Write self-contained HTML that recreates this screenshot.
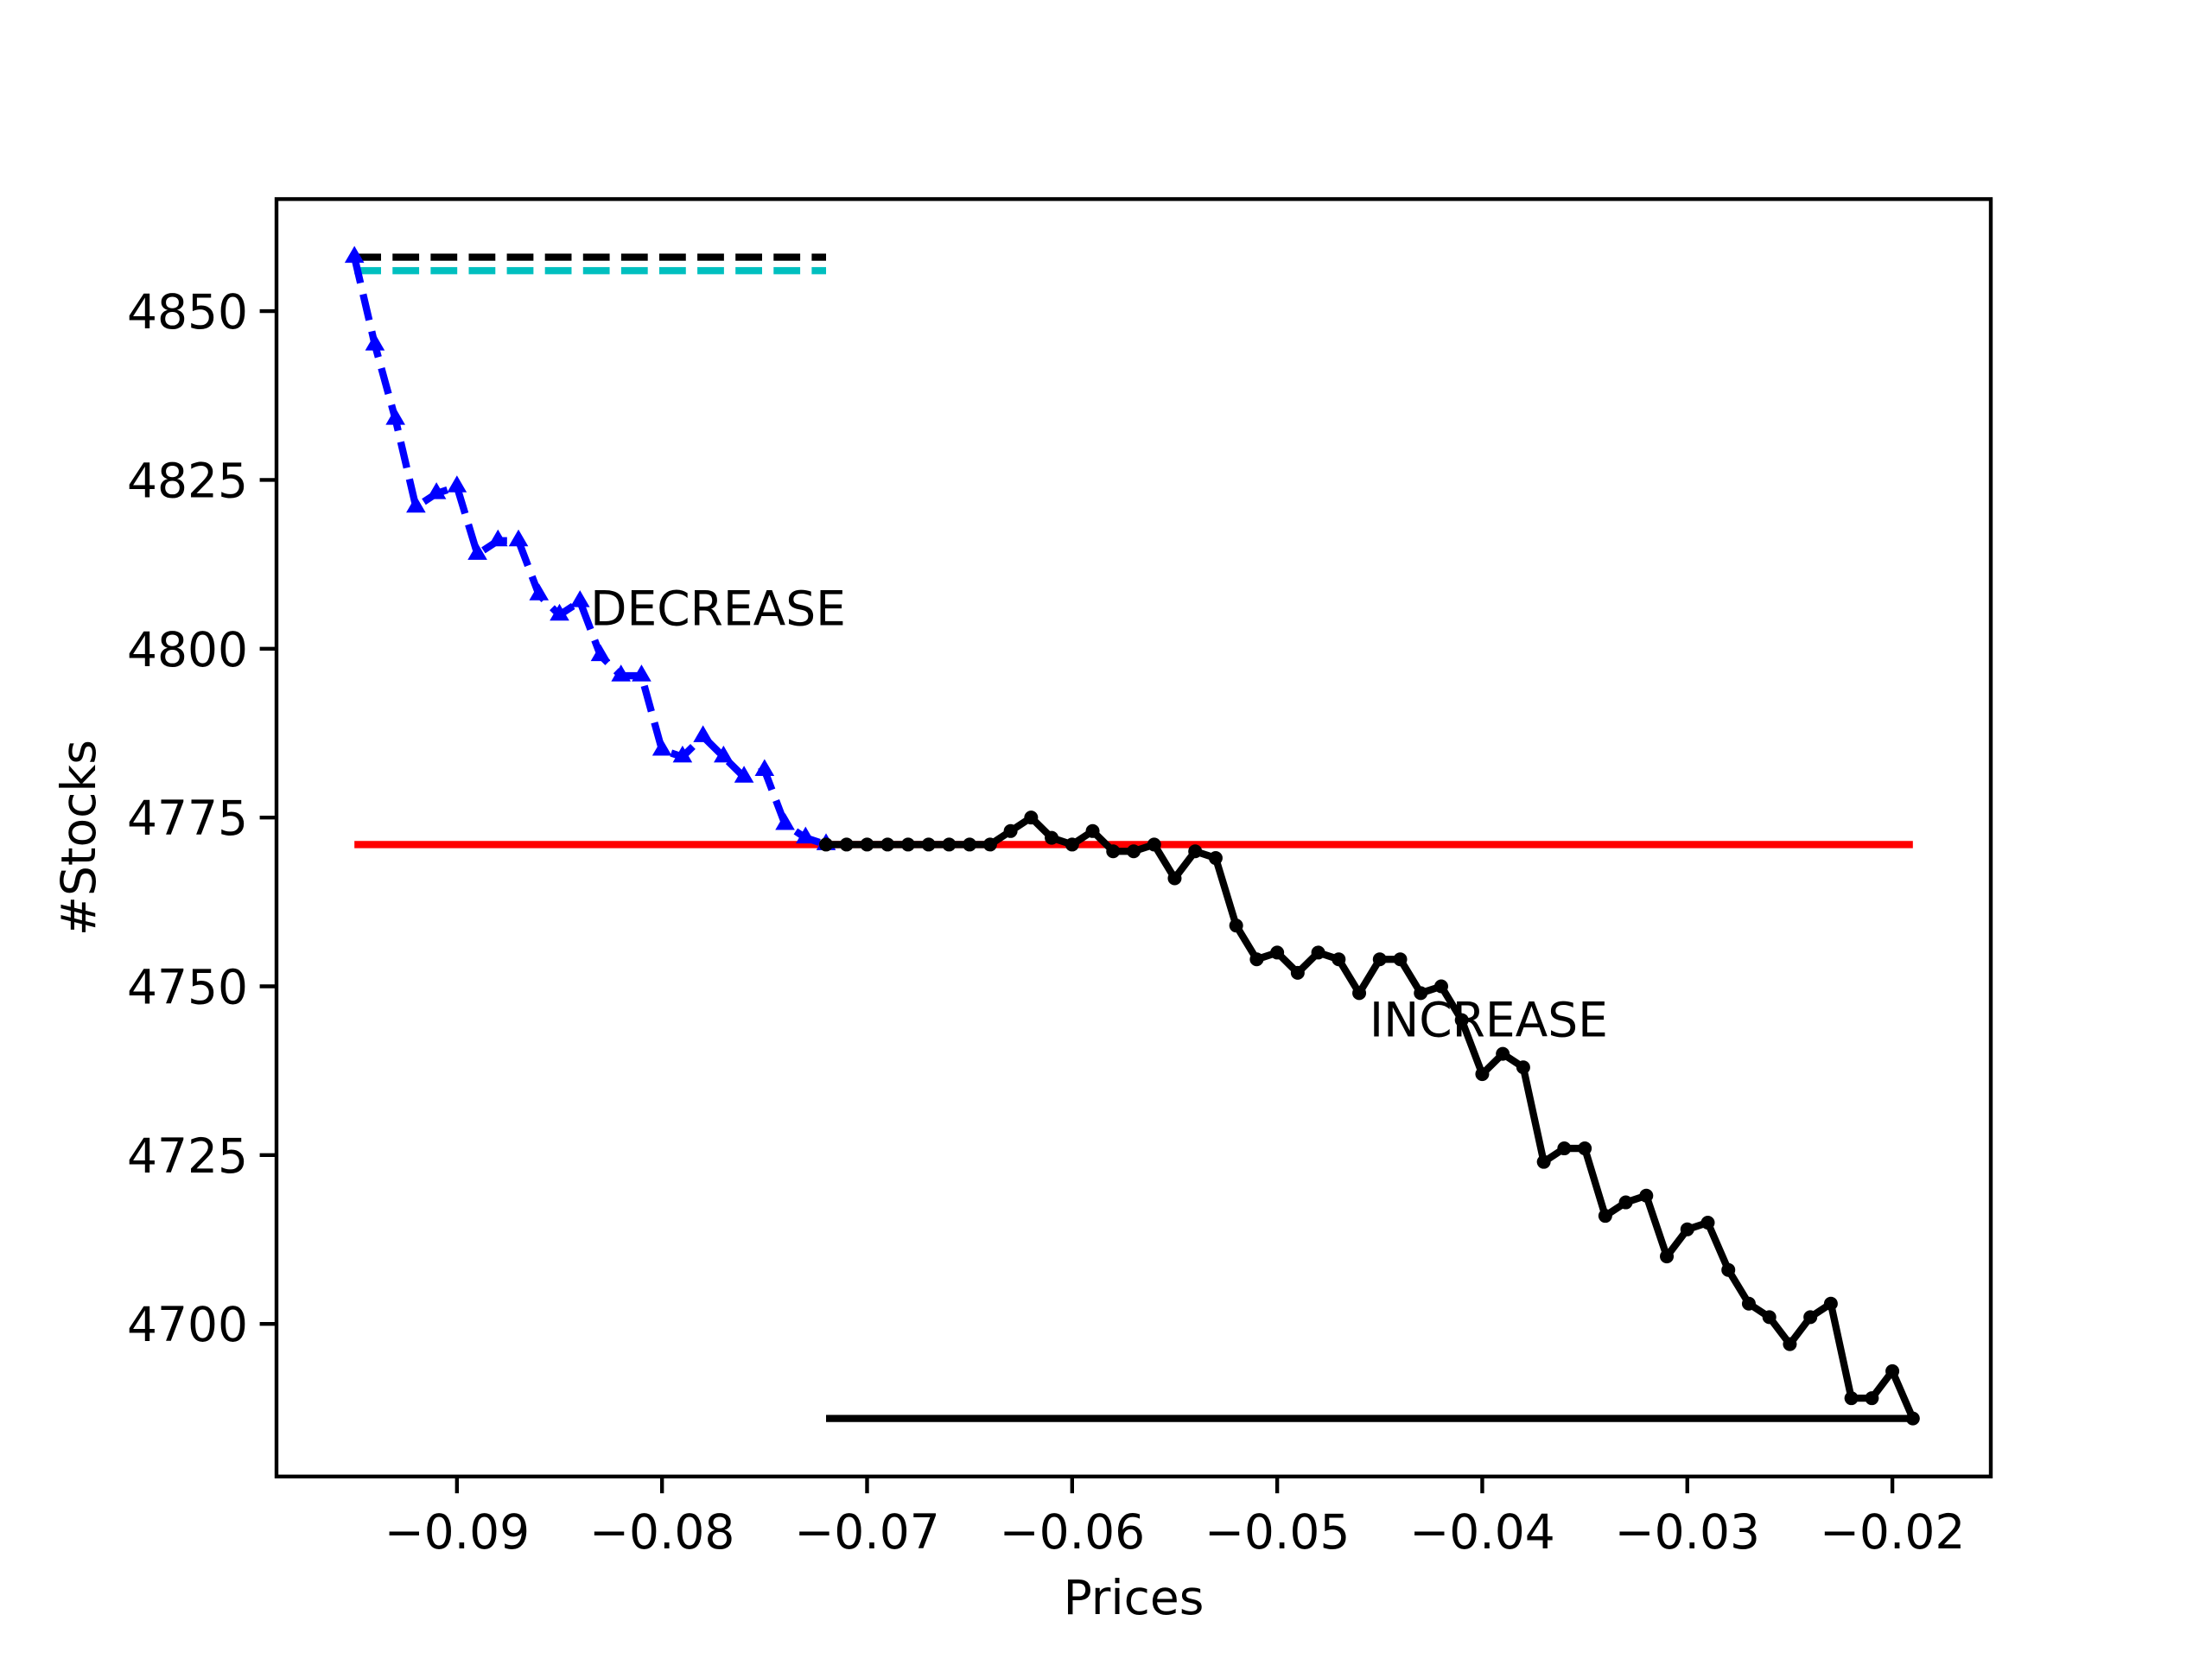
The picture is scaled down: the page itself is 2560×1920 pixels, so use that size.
<!DOCTYPE html>
<html><head><meta charset="utf-8"><style>
html,body{margin:0;padding:0;background:#fff}
svg{display:block;font-family:"DejaVu Sans","Liberation Sans",sans-serif}
</style></head><body>
<svg id="chart" width="2560" height="1920" viewBox="0 0 2560 1920" xmlns="http://www.w3.org/2000/svg">
<rect width="2560" height="1920" fill="#fff"/>
<g id="plot"></g>
</svg>
<script>
const blueX = [-0.095,-0.094,-0.093,-0.092,-0.091,-0.090,-0.089,-0.088,-0.087,-0.086,-0.085,-0.084,-0.083,-0.082,-0.081,-0.080,-0.079,-0.078,-0.077,-0.076,-0.075,-0.074,-0.073,-0.072];
const blueY = [4858,4845,4834,4821,4823,4824,4814,4816,4816,4808,4805,4807,4799,4796,4796,4785,4784,4787,4784,4781,4782,4774,4772,4771];
const blackX = [-0.072,-0.071,-0.070,-0.069,-0.068,-0.067,-0.066,-0.065,-0.064,-0.063,-0.062,-0.061,-0.060,-0.059,-0.058,-0.057,-0.056,-0.055,-0.054,-0.053,-0.052,-0.051,-0.050,-0.049,-0.048,-0.047,-0.046,-0.045,-0.044,-0.043,-0.042,-0.041,-0.040,-0.039,-0.038,-0.037,-0.036,-0.035,-0.034,-0.033,-0.032,-0.031,-0.030,-0.029,-0.028,-0.027,-0.026,-0.025,-0.024,-0.023,-0.022,-0.021,-0.020,-0.019];
const blackY = [4771,4771,4771,4771,4771,4771,4771,4771,4771,4773,4775,4772,4771,4773,4770,4770,4771,4766,4770,4769,4759,4754,4755,4752,4755,4754,4749,4754,4754,4749,4750,4745,4737,4740,4738,4724,4726,4726,4716,4718,4719,4710,4714,4715,4708,4703,4701,4697,4701,4703,4689,4689,4693,4686];
const xTicks = [-0.09,-0.08,-0.07,-0.06,-0.05,-0.04,-0.03,-0.02];
const xTickLabels = ["\u22120.09","\u22120.08","\u22120.07","\u22120.06","\u22120.05","\u22120.04","\u22120.03","\u22120.02"];
const yTicks = [4700,4725,4750,4775,4800,4825,4850];
const yTickLabels = ["4700","4725","4750","4775","4800","4825","4850"];
const refRed = 4771, refBlackDash = 4858, refCyanDash = 4856, refBottom = 4686;

const L=320,R=2304,T=230.4,B=1708.8;
const allX=blueX.concat(blackX), allY=blueY.concat(blackY);
const xmn=Math.min(...allX), xmx=Math.max(...allX), ymn=Math.min(...allY), ymx=Math.max(...allY);
const x0=xmn-(xmx-xmn)*0.05, x1=xmx+(xmx-xmn)*0.05, y0=ymn-(ymx-ymn)*0.05, y1=ymx+(ymx-ymn)*0.05;
const sx=v=>L+(v-x0)/(x1-x0)*(R-L);
const sy=v=>B-(v-y0)/(y1-y0)*(B-T);
const NS="http://www.w3.org/2000/svg";
const g=document.getElementById('plot');
function mk(tag,attrs){const e=document.createElementNS(NS,tag);for(const k in attrs)e.setAttribute(k,attrs[k]);g.appendChild(e);return e;}

let e;
e=mk('line',{x1:sx(xmn),x2:sx(xmx),y1:sy(refRed),y2:sy(refRed),stroke:'#ff0000','stroke-width':8.3});


e=mk('line',{x1:sx(blueX[0]),x2:sx(blueX[blueX.length-1]),y1:sy(refBlackDash),y2:sy(refBlackDash),stroke:'#000','stroke-width':8.3,'stroke-dasharray':'30.8 13.3'});


e=mk('line',{x1:sx(blueX[0]),x2:sx(blueX[blueX.length-1]),y1:sy(refCyanDash),y2:sy(refCyanDash),stroke:'#00bfbf','stroke-width':8.3,'stroke-dasharray':'30.8 13.3'});


e=mk('line',{x1:sx(blackX[0]),x2:sx(blackX[blackX.length-1]),y1:sy(refBottom),y2:sy(refBottom),stroke:'#000','stroke-width':8.3});



e=mk('polyline',{points:blueX.map((v,i)=>sx(v)+','+sy(blueY[i])).join(' '),fill:'none',stroke:'#0000ff','stroke-width':8.3,'stroke-dasharray':'30.8 13.3'});


blueX.forEach((v,i)=>{const cx=sx(v),cy=sy(blueY[i]),r=13;
 const m=mk('polygon',{points:`${cx},${cy-r} ${cx-r*0.87},${cy+r*0.5} ${cx+r*0.87},${cy+r*0.5}`,fill:'#0000ff'});
 
 });

e=mk('polyline',{points:blackX.map((v,i)=>sx(v)+','+sy(blackY[i])).join(' '),fill:'none',stroke:'#000','stroke-width':8.3,'stroke-linejoin':'round'});


blackX.forEach((v,i)=>{const m=mk('circle',{cx:sx(v),cy:sy(blackY[i]),r:8,fill:'#000'});
 
 });

e=mk('text',{x:sx(-0.0835),y:sy(4804.5)+8,'font-size':55,fill:'#000'});e.textContent='DECREASE';


e=mk('text',{x:sx(-0.0455),y:sy(4743.5)+7,'font-size':55,fill:'#000'});e.textContent='INCREASE';



e=mk('rect',{x:L,y:T,width:R-L,height:B-T,fill:'none',stroke:'#000','stroke-width':4.4});


xTicks.forEach((v,i)=>{const x=sx(v);
 const t=mk('line',{x1:x,x2:x,y1:B,y2:B+19.4,stroke:'#000','stroke-width':4.4});
 
 
 const l=mk('text',{x:x,y:B+83,'font-size':55,'text-anchor':'middle',fill:'#000'});l.textContent=xTickLabels[i];
 
 });
yTicks.forEach((v,i)=>{const y=sy(v);
 const t=mk('line',{x1:L-19.4,x2:L,y1:y,y2:y,stroke:'#000','stroke-width':4.4});
 
 
 const l=mk('text',{x:L-33,y:y+20,'font-size':55,'text-anchor':'end',fill:'#000'});l.textContent=yTickLabels[i];
 
 });
e=mk('text',{x:(L+R)/2,y:1868,'font-size':55,'text-anchor':'middle',fill:'#000'});e.textContent='Prices';


e=mk('text',{x:0,y:0,'font-size':55,'text-anchor':'middle',fill:'#000',transform:`translate(110,${(T+B)/2}) rotate(-90)`});e.textContent='#Stocks';


</script>
</body></html>
